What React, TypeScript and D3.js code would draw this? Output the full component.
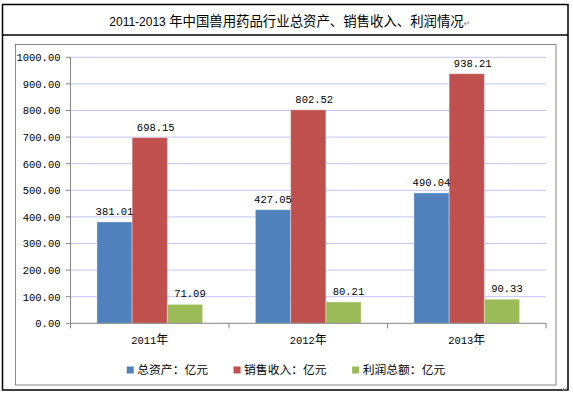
import * as d3 from 'd3';

// chart data
const years = ['2011年', '2012年', '2013年'];
const seriesNames = ['总资产：亿元', '销售收入：亿元', '利润总额：亿元'];
const totalAssets = [381.01, 427.05, 490.04];
const salesRevenue = [698.15, 802.52, 938.21];
const totalProfit = [71.09, 80.21, 90.33];
const yTicks = [0, 100, 200, 300, 400, 500, 600, 700, 800, 900, 1000];
const titleNumber = '2011-2013';
const titleText = '年中国兽用药品行业总资产、销售收入、利润情况';

const colors = ['#4F81BD', '#C0504D', '#9BBB59'];
const labelDx = [0, 6, 5];
const mono = '"Liberation Mono", "DejaVu Sans Mono", monospace';
const cjk = '"Noto Sans CJK SC", "Noto Sans", sans-serif';

const App = () => {
  const width = 573;
  const height = 394;
  const plot = { left: 70.5, right: 546, top: 57.3, bottom: 323.3 };

  const seriesValues = [totalAssets, salesRevenue, totalProfit];

  const scaleY = d3.scaleLinear().domain([0, 1000]).range([plot.bottom, plot.top]);
  const scaleX = d3.scaleBand<string>().domain(years).range([plot.left, plot.right]);
  const scaleSeries = d3.scaleBand<number>()
    .domain(seriesNames.map((_, i) => i))
    .range([0, scaleX.bandwidth()])
    .paddingInner(0)
    .paddingOuter(0.75);
  const fmt = d3.format('.2f');

  // boundaries of categories for x ticks
  const xBounds = years.map(y => scaleX(y) as number).concat([plot.right]);

  // legend layout (centered in the gray frame)
  const legendFont = 11.8;
  const legendGap = 25.5;
  const itemWidths = seriesNames.map(n => 10.5 + n.length * legendFont);
  const legendTotal = d3.sum(itemWidths) + legendGap * (seriesNames.length - 1);
  let lx = 286 - legendTotal / 2;
  const legendX = itemWidths.map(w => {
    const x = lx;
    lx += w + legendGap;
    return x;
  });

  return (
    <svg
      width={width}
      height={height}
      style={{ position: 'absolute', left: 0, top: 0, background: '#fff' }}
    >
      {/* outer table frame */}
      <rect x={2.5} y={4.5} width={565.5} height={385.5} fill="none" stroke="#000" strokeWidth={1.5} />
      <line x1={2.5} x2={568} y1={35} y2={35} stroke="#000" strokeWidth={1.5} />

      {/* title */}
      <text x={109.3} y={25.5} fill="#000">
        <tspan fontFamily='"Liberation Sans", Arial, sans-serif' fontSize={12}>{titleNumber} </tspan>
        <tspan fontFamily={cjk} fontSize={13.4}>{titleText}</tspan>
        <tspan fontFamily='"DejaVu Sans", sans-serif' fontSize={8} fill="#888">↵</tspan>
      </text>

      {/* chart frame */}
      <rect x={15.5} y={44.5} width={540.5} height={340.5} fill="none" stroke="#868686" strokeWidth={1} />

      {/* grid lines */}
      {yTicks.filter(t => t > 0).map(t => (
        <line key={t} x1={plot.left} x2={plot.right} y1={scaleY(t)} y2={scaleY(t)} stroke="#C4C4F7" strokeWidth={1} />
      ))}

      {/* bars */}
      {years.map((year, yi) => (
        <g key={year} transform={`translate(${scaleX(year)},0)`}>
          {seriesValues.map((vals, si) => (
            <rect
              key={si}
              x={scaleSeries(si)}
              y={scaleY(vals[yi])}
              width={scaleSeries.bandwidth()}
              height={scaleY(0) - scaleY(vals[yi])}
              fill={colors[si]}
              stroke="rgba(255,255,255,0.35)"
              strokeWidth={1}
            />
          ))}
        </g>
      ))}

      {/* data labels */}
      {years.map((year, yi) =>
        seriesValues.map((vals, si) => (
          <text
            key={`${year}-${si}`}
            x={(scaleX(year) as number) + (scaleSeries(si) as number) + scaleSeries.bandwidth() / 2 + labelDx[si]}
            y={scaleY(vals[yi]) - 7}
            textAnchor="middle"
            fontFamily={mono}
            fontSize={10.5}
            fill="#000"
          >
            {fmt(vals[yi])}
          </text>
        ))
      )}

      {/* y axis */}
      <line x1={plot.left} x2={plot.left} y1={plot.top} y2={plot.bottom} stroke="#868686" />
      {yTicks.map(t => (
        <g key={t}>
          <line x1={plot.left - 4.5} x2={plot.left} y1={scaleY(t)} y2={scaleY(t)} stroke="#868686" />
          <text
            x={60.5}
            y={scaleY(t) + 3.8}
            textAnchor="end"
            fontFamily={mono}
            fontSize={10.5}
            fill="#000"
          >
            {fmt(t)}
          </text>
        </g>
      ))}

      {/* x axis */}
      <line x1={plot.left} x2={plot.right} y1={plot.bottom} y2={plot.bottom} stroke="#868686" />
      {xBounds.map((bx, i) => (
        <line key={i} x1={bx} x2={bx} y1={plot.bottom} y2={plot.bottom + 5} stroke="#868686" />
      ))}
      {years.map(year => {
        const digits = year.replace(/[^0-9]/g, '');
        const suffix = year.replace(/[0-9]/g, '');
        return (
          <text
            key={year}
            x={(scaleX(year) as number) + scaleX.bandwidth() / 2}
            y={343.5}
            textAnchor="middle"
            fill="#000"
          >
            <tspan fontFamily={mono} fontSize={10.5}>{digits}</tspan>
            <tspan fontFamily={cjk} fontSize={12}>{suffix}</tspan>
          </text>
        );
      })}

      {/* legend */}
      {seriesNames.map((name, i) => (
        <g key={name} transform={`translate(${legendX[i]},370)`}>
          <rect x={0} y={-3.5} width={7} height={7} fill={colors[i]} />
          <text x={10.5} y={4.3} fontFamily={cjk} fontSize={legendFont} fill="#000">
            {name}
          </text>
        </g>
      ))}

      <text x={562} y={392} fontFamily='"DejaVu Sans", sans-serif' fontSize={8} fill="#888">↵</text>
    </svg>
  );
};

export default App;
